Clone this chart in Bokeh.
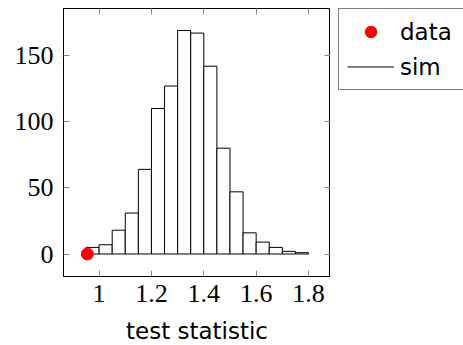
from bokeh.plotting import figure
from bokeh.layouts import row
from bokeh.models import (Range1d, LinearAxis, Legend, LegendItem, FixedTicker,
                          CustomJSTickFormatter)
from bokeh.embed import file_html
from bokeh.resources import INLINE

# histogram of simulated test statistics
bin_left = [0.95, 1.00, 1.05, 1.10, 1.15, 1.20, 1.25, 1.30, 1.35, 1.40,
            1.45, 1.50, 1.55, 1.60, 1.65, 1.70, 1.75]
bin_right = [1.00, 1.05, 1.10, 1.15, 1.20, 1.25, 1.30, 1.35, 1.40, 1.45,
             1.50, 1.55, 1.60, 1.65, 1.70, 1.75, 1.80]
sim_counts = [5, 7, 18, 31, 64, 110, 127, 169, 167, 142,
              80, 47, 16, 9, 5, 2, 1]

# observed data
data_x = [0.955]
data_y = [0]

x_ticks = [1.0, 1.2, 1.4, 1.6, 1.8]
y_ticks = [0, 50, 100, 150]

TICK_FONT = "Liberation Serif"
SANS = "DejaVu Sans"

FW, FH = 267, 268
p = figure(frame_width=FW, frame_height=FH, output_backend="svg",
           toolbar_location=None,
           x_range=Range1d(0.864, 1.884), y_range=Range1d(-17, 185.6),
           min_border_left=63, min_border_top=8, min_border_bottom=69,
           min_border_right=0)
p.xgrid.visible = False
p.ygrid.visible = False
p.outline_line_color = "black"
p.outline_line_alpha = 1.0
p.background_fill_color = "white"
p.border_fill_color = "white"

bars = p.quad(left=bin_left, right=bin_right, top=sim_counts, bottom=0,
              fill_color="white", line_color="black", line_width=1)
dots = p.scatter(x=data_x, y=data_y, size=12, fill_color="red", line_color="red")

for ax, ticks in ((p.xaxis[0], x_ticks), (p.yaxis[0], y_ticks)):
    ax.ticker = FixedTicker(ticks=ticks)
    ax.major_tick_in = 6
    ax.major_tick_out = 0
    ax.minor_tick_in = 0
    ax.minor_tick_out = 0
    ax.major_tick_line_color = "#888888"
    ax.axis_line_color = "black"
    ax.major_label_text_font = TICK_FONT
    ax.major_label_text_font_size = "26px"
    ax.major_label_text_color = "black"

p.xaxis[0].major_label_standoff = 8
p.yaxis[0].major_label_standoff = 10
p.xaxis[0].axis_label = "test statistic"
p.xaxis[0].axis_label_text_font = SANS
p.xaxis[0].axis_label_text_font_style = "normal"
p.xaxis[0].axis_label_text_font_size = "23px"
p.xaxis[0].axis_label_text_color = "black"
p.xaxis[0].axis_label_standoff = 13

blank = CustomJSTickFormatter(code="return ''")
top_ax = LinearAxis(ticker=FixedTicker(ticks=x_ticks), formatter=blank)
right_ax = LinearAxis(ticker=FixedTicker(ticks=y_ticks), formatter=blank)
for ax in (top_ax, right_ax):
    ax.major_tick_in = 6
    ax.major_tick_out = 0
    ax.minor_tick_in = 0
    ax.minor_tick_out = 0
    ax.major_tick_line_color = "#888888"
    ax.axis_line_color = "black"
    ax.major_label_text_font_size = "1px"
    ax.major_label_standoff = 0
p.add_layout(top_ax, "above")
p.add_layout(right_ax, "right")

# legend panel as a separate, axis-less figure to the right of the plot;
# its glyph renderers only serve the legend and lie outside its view
q = figure(width=133, height=345, output_backend="svg", toolbar_location=None,
           x_range=Range1d(100, 101), y_range=Range1d(100, 101),
           min_border=0, min_border_left=8, outline_line_color=None)
q.axis.visible = False
q.xgrid.visible = False
q.ygrid.visible = False
q.border_fill_color = "white"
leg_dot = q.scatter(x=data_x, y=data_y, size=12, fill_color="red",
                    line_color="red")
leg_line = q.line(x=bin_left, y=sim_counts, line_color="black", line_width=1)

legend = Legend(items=[LegendItem(label="data", renderers=[leg_dot]),
                       LegendItem(label="sim", renderers=[leg_line])],
                location="top_left")
legend.label_text_font = SANS
legend.label_text_font_size = "23px"
legend.label_text_color = "black"
legend.glyph_width = 47
legend.glyph_height = 29
legend.label_height = 29
legend.label_standoff = 6
legend.label_width = 60
legend.padding = 8
legend.spacing = 6
legend.margin = 0
legend.border_line_color = "black"
legend.border_line_width = 1
legend.background_fill_alpha = 1.0
q.add_layout(legend, "center")

layout = row(p, q, spacing=0)
open("out.html", "w").write(file_html(layout, INLINE))
